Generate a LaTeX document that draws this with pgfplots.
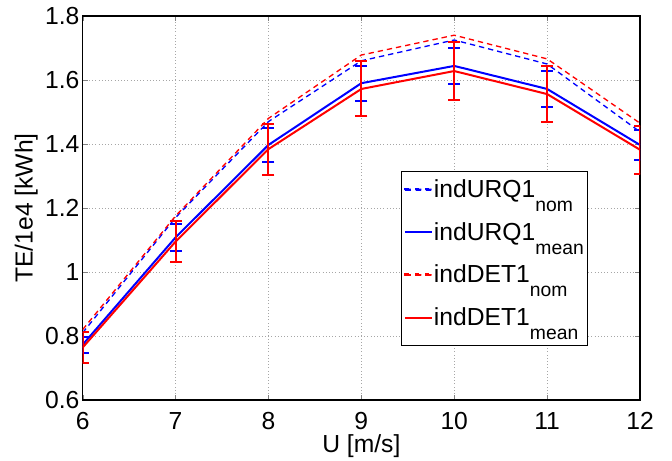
\documentclass[border=0pt]{standalone}
\usepackage{fontspec}
\setmainfont{Liberation Sans}
\usepackage{pgfplots}
\pgfplotsset{compat=1.18}
\newcommand{\sub}[1]{\raisebox{-10.5pt}[0pt][0pt]{\fontsize{14.5}{16}\selectfont #1}}
\pgfplotsset{
  dashlegend/.style={legend image code/.code={
    \color{#1}\fill[#1] (0pt,3.15pt) rectangle (4.5pt,4.35pt)
      (7.75pt,3.15pt) rectangle (12.25pt,4.35pt) (15.5pt,3.15pt) rectangle (20pt,4.35pt);}},
}
\begin{document}
\begin{tikzpicture}
\begin{axis}[
  scale only axis, width=418pt, height=288pt,
  xmin=6, xmax=12, ymin=0.6, ymax=1.8,
  xtick={6,7,8,9,10,11,12},
  ytick={0.6,0.8,1,1.2,1.4,1.6,1.8},
  /pgf/number format/assume math mode=true,
  grid=major,
  major grid style={gray!70, dotted, line width=0.6pt},
  tick align=inside, xtick pos=both, ytick pos=both,
  major tick length=4pt,
  axis line style={line width=0.8pt},
  ticklabel style={font=\fontsize{18.5}{20}\selectfont},
  yticklabel style={inner sep=0pt, xshift=-2.25pt},
  xticklabel style={inner sep=0pt, yshift=-9pt},
  label style={font=\fontsize{18.5}{20}\selectfont},
  xlabel={U [m/s]}, ylabel={TE/1e4 [kWh]},
  xlabel style={at={(axis description cs:0.5,-0.137)}, anchor=base, inner sep=0pt},
  ylabel style={at={(axis description cs:-0.0897,0.5)}, rotate=0, anchor=base, inner sep=0pt},
  legend style={at={(0.907,0.596)}, anchor=north east, draw=black, line width=0.6pt,
    font=\fontsize{18.5}{20}\selectfont, cells={anchor=west}, row sep=6.5pt,
    inner xsep=2pt, inner ysep=4.5pt,
    nodes={inner xsep=1pt, inner ysep=1.5pt, text height=13.5pt, text depth=9pt}},
  legend image code/.code={\draw[#1] (0pt,3.75pt) -- (20pt,3.75pt);},
]
\addplot[color=blue, line width=1pt, dash pattern=on 4pt off 3pt, dashlegend=blue] table[x=x,y=y]{
x y
6 0.810
7 1.170
8 1.470
9 1.660
10 1.725
11 1.650
12 1.438
};
\addlegendentry{indURQ1\sub{nom}}
\addplot[color=blue, line width=1.5pt, error bars/.cd, y dir=both, y explicit,
  error bar style={line width=1.5pt, solid},
  error mark options={rotate=90, mark size=4.5pt, line width=1.5pt}]
  table[x=x,y=y,y error=e]{
x y e
6 0.773 0.025
7 1.108 0.042
8 1.397 0.052
9 1.590 0.055
10 1.644 0.055
11 1.572 0.056
12 1.397 0.047
};
\addlegendentry{indURQ1\sub{mean}}
\addplot[color=red, line width=1pt, dash pattern=on 4pt off 3pt, dashlegend=red] table[x=x,y=y]{
x y
6 0.820
7 1.175
8 1.480
9 1.678
10 1.740
11 1.666
12 1.465
};
\addlegendentry{indDET1\sub{nom}}
\addplot[color=red, line width=1.5pt, error bars/.cd, y dir=both, y explicit,
  error bar style={line width=1.5pt, solid},
  error mark options={rotate=90, mark size=4.5pt, line width=1.5pt}]
  table[x=x,y=y,y error=e]{
x y e
6 0.764 0.047
7 1.095 0.065
8 1.384 0.080
9 1.572 0.086
10 1.628 0.090
11 1.556 0.087
12 1.382 0.075
};
\addlegendentry{indDET1\sub{mean}}
\end{axis}
\pgfresetboundingbox
\path ([shift={(-62pt,-45pt)}]current axis.south west) rectangle ([shift={(24pt,12pt)}]current axis.north east);
\end{tikzpicture}
\end{document}
